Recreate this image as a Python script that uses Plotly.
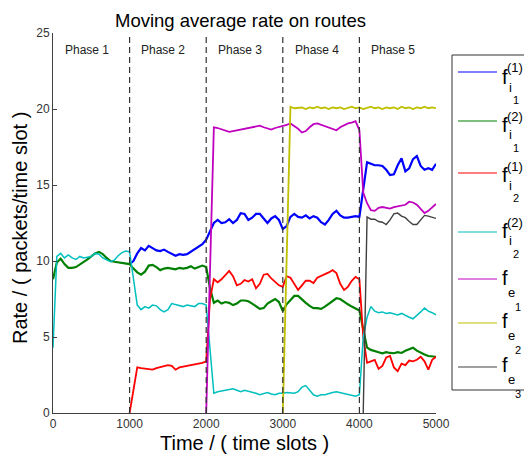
import plotly.graph_objects as go

# ---------------- data ----------------
time_slots = list(range(0, 5001, 50))          # time / (time slots)
phase_starts = [0, 1000, 2000, 3000, 4000]
phase_bounds = [1000, 2000, 3000, 4000]
phase_labels = ["Phase 1", "Phase 2", "Phase 3", "Phase 4", "Phase 5"]
x_ticks = [0, 1000, 2000, 3000, 4000, 5000]
y_ticks = [0, 5, 10, 15, 20, 25]

f_i1_1 = [None] * 20 + [
    9.8, 10.0, 10.5, 10.85, 10.7, 11.0, 10.85, 10.7, 10.65, 10.75,
    10.6, 10.45, 10.35, 10.45, 10.4, 10.45, 10.6, 10.8, 10.95, 11.1,
    11.4, 11.9, 12.5, 12.7, 12.5, 12.55, 12.75, 12.5, 12.7, 13.15,
    13.1, 12.7, 12.85, 13.1, 13.1, 12.8, 12.5, 12.8, 12.95, 12.7,
    12.1, 12.3, 12.9, 13.1, 12.9, 12.85, 13.0, 12.8, 12.95, 12.85,
    12.55, 12.4, 12.7, 13.1, 13.3, 13.0, 12.85, 12.85, 12.9, 12.95,
    12.9, 14.8, 16.5, 16.4, 16.3, 16.3, 16.25, 16.0, 15.65, 15.7,
    16.3, 16.75, 15.9, 16.1, 16.7, 16.9, 16.25, 16.0, 16.1, 16.0, 16.4]

f_i1_2 = [
    8.8, 9.9, 10.15, 9.8, 9.55, 9.55, 9.6, 9.75, 9.95, 10.1,
    10.3, 10.5, 10.6, 10.45, 10.2, 10.0, 9.95, 9.9, 9.9, 9.85,
    9.8, 9.5, 9.25, 9.1, 9.3, 9.7, 9.75, 9.6, 9.4, 9.5,
    9.55, 9.5, 9.45, 9.55, 9.5, 9.55, 9.65, 9.5, 9.6, 9.7,
    9.6, 8.2, 7.25, 7.4, 7.2, 7.3, 7.25, 7.1, 7.2, 7.4,
    7.4, 7.35, 7.2, 7.0, 6.85, 6.9, 7.2, 7.35, 7.5, 7.3,
    6.7, 7.15, 7.45, 7.7, 7.7, 7.45, 7.25, 7.05, 6.9, 6.9,
    6.85, 7.0, 7.2, 7.4, 7.55, 7.5, 7.3, 7.15, 7.0, 6.85,
    6.75, 5.5, 4.3, 4.15, 4.05, 4.0, 3.93, 4.0, 3.95, 3.93,
    4.0, 3.95, 4.1, 4.2, 4.3, 4.1, 3.95, 3.85, 3.75, 3.7, 3.7]

f_i2_1 = [None] * 20 + [
    0.0, 1.5, 3.0, 2.95, 2.9, 2.9, 2.85, 2.95, 3.0, 3.05,
    3.15, 3.1, 2.85, 3.0, 3.05, 3.1, 3.1, 3.15, 3.2, 3.3,
    3.4, 7.5, 8.8, 8.6, 8.8, 9.1, 9.35, 9.0, 8.4, 8.5,
    8.75, 8.65, 8.8, 8.2, 8.5, 9.1, 9.15, 8.85, 8.6, 8.4,
    8.3, 9.0, 8.9, 8.45, 8.1, 8.4, 8.7, 8.7, 8.55, 8.9,
    9.0, 9.1, 9.25, 9.4, 9.2, 8.5, 8.1, 8.3, 8.7, 8.95,
    8.8, 5.0, 3.3, 3.4, 3.5, 2.9, 3.1, 3.65, 3.75, 3.0,
    2.75, 3.25, 3.15, 3.45, 3.4, 3.5, 3.7, 3.4, 2.85, 3.5, 3.7]

f_i2_2 = [
    4.3, 10.3, 10.5, 10.2, 10.4, 10.2, 10.1, 10.3, 10.2, 10.25,
    10.3, 10.5, 10.45, 10.2, 10.05, 9.95, 10.05, 10.35, 10.55, 10.65,
    10.6, 9.0, 7.1, 6.8, 7.0, 6.9, 7.1, 7.05, 6.8, 6.65,
    6.8, 7.2, 7.15, 7.1, 7.0, 7.1, 7.05, 7.0, 7.2, 7.2,
    7.1, 4.0, 1.3, 1.4, 1.45, 1.5, 1.55, 1.6, 1.5, 1.4,
    1.5, 1.45, 1.35, 1.3, 1.2, 1.3, 1.35, 1.25, 1.2, 1.3,
    1.3, 1.35, 1.3, 1.3, 1.4, 1.7, 1.8, 1.5, 1.2, 1.1,
    1.2, 1.2, 1.3, 1.35, 1.4, 1.35, 1.3, 1.2, 1.15, 1.1,
    1.2, 5.0, 6.3, 7.0, 6.7, 6.6, 6.65, 6.55, 6.6, 6.5,
    6.45, 6.55, 6.4, 6.3, 6.2, 6.4, 6.65, 6.9, 6.7, 6.6, 6.45]

f_e1 = [None] * 40 + [
    0.0, 10.0, 18.8, 18.75, 18.65, 18.6, 18.5, 18.55, 18.6, 18.7,
    18.75, 18.8, 18.85, 18.85, 18.9, 18.8, 18.75, 18.65, 18.75, 18.8,
    18.85, 18.95, 19.05, 18.9, 18.7, 18.45, 18.55, 18.8, 19.0, 19.05,
    18.95, 18.85, 18.75, 18.7, 18.6, 18.8, 18.95, 19.05, 19.1, 19.2,
    18.6, 14.5, 13.8, 13.35, 13.3, 13.5, 13.55, 13.5, 13.45, 13.55,
    13.6, 13.6, 13.7, 13.9, 13.85, 13.7, 13.4, 13.15, 13.3, 13.55, 13.75]

f_e2 = [None] * 60 + [
    0.0, 10.0, 20.15, 20.05, 20.1, 20.1, 20.0, 20.1, 20.05, 20.15,
    20.05, 20.1, 20.0, 20.1, 20.05, 20.1, 20.0, 20.1, 20.15, 20.05,
    20.1, 20.0, 20.1, 20.15, 20.05, 20.1, 20.0, 20.1, 20.05, 20.1,
    20.0, 20.15, 20.05, 20.1, 20.0, 20.1, 20.05, 20.15, 20.05, 20.1, 20.05]

f_e3 = [None] * 81 + [
    0.0, 12.9, 12.75, 12.75, 12.6, 12.55, 12.4, 12.7, 13.1, 13.15,
    12.95, 12.85, 12.6, 12.4, 12.4, 12.7, 13.0, 12.95, 12.85, 12.8]

series = [f_i1_1, f_i1_2, f_i2_1, f_i2_2, f_e1, f_e2, f_e3]
series_names = ["f_i1^(1)", "f_i1^(2)", "f_i2^(1)", "f_i2^(2)", "f_e1", "f_e2", "f_e3"]
# legend label parts: (subscript letter, sub-subscript, superscript)
legend_parts = [("i", "1", "(1)"), ("i", "1", "(2)"), ("i", "2", "(1)"), ("i", "2", "(2)"),
                ("e", "1", None), ("e", "2", None), ("e", "3", None)]
colors = ["#0000FF", "#008000", "#FF0000", "#00BFBF", "#BF00BF", "#BFBF00", "#404040"]
widths = [2.2, 2.2, 1.8, 1.5, 1.8, 1.8, 1.4]

for s in series:
    assert len(s) == len(time_slots)

# ---------------- figure ----------------
# the page body has an 8px margin, so the figure is drawn 8px in from the top-left
OFF = 8
VIEW_W, VIEW_H = 532, 457
PL, PR, PT, PB = 53, 436, 33, 413      # plot-area edges in page pixels
W, H = VIEW_W - OFF, VIEW_H - OFF
L, T = PL - OFF, PT - OFF
R, B = VIEW_W - PR, VIEW_H - PB
PW, PH = PR - PL, PB - PT


def pxx(x):
    return (x - PL) / PW


def pxy(y):
    return (PB - y) / PH


FONT = "Liberation Sans, Arial, Helvetica, sans-serif"
fig = go.Figure()
for s, n, c, w in zip(series, series_names, colors, widths):
    fig.add_trace(go.Scatter(x=time_slots, y=s, mode="lines", name=n,
                             line=dict(color=c, width=w), showlegend=False,
                             connectgaps=False))

shapes = []
for xb in phase_bounds:
    shapes.append(dict(type="line", xref="x", yref="y", x0=xb, x1=xb, y0=0, y1=25,
                       line=dict(color="#333333", width=1.2, dash="6px,4px")))

# legend box
shapes.append(dict(type="rect", xref="paper", yref="paper",
                   x0=pxx(452), x1=pxx(560), y0=pxy(390), y1=pxy(55),
                   line=dict(color="#333333", width=1), fillcolor="white"))

annotations = []
line_ys = [72, 121, 173, 232, 279, 323, 367]
f_ys = [77, 125, 175, 231, 278, 321, 365]
for (sub, subsub, sup), c, ly, fy in zip(legend_parts, colors, line_ys, f_ys):
    shapes.append(dict(type="line", xref="paper", yref="paper",
                       x0=pxx(458), x1=pxx(497), y0=pxy(ly), y1=pxy(ly),
                       line=dict(color=c, width=1.2)))
    annotations.append(dict(text="f", xref="paper", yref="paper", x=pxx(504.5), y=pxy(fy),
                            showarrow=False, font=dict(size=20, color="black", family=FONT),
                            xanchor="center", yanchor="middle"))
    if sup is not None:
        annotations.append(dict(text=sup, xref="paper", yref="paper", x=pxx(515), y=pxy(fy - 9),
                                showarrow=False, font=dict(size=13, color="black", family=FONT),
                                xanchor="center", yanchor="middle"))
        annotations.append(dict(text=sub, xref="paper", yref="paper", x=pxx(510), y=pxy(fy + 10),
                                showarrow=False, font=dict(size=13, color="black", family=FONT),
                                xanchor="center", yanchor="middle"))
        annotations.append(dict(text=subsub, xref="paper", yref="paper", x=pxx(515.5), y=pxy(fy + 23),
                                showarrow=False, font=dict(size=11, color="black", family=FONT),
                                xanchor="center", yanchor="middle"))
    else:
        annotations.append(dict(text=sub, xref="paper", yref="paper", x=pxx(511), y=pxy(fy + 14),
                                showarrow=False, font=dict(size=13, color="black", family=FONT),
                                xanchor="center", yanchor="middle"))
        annotations.append(dict(text=subsub, xref="paper", yref="paper", x=pxx(518), y=pxy(fy + 29),
                                showarrow=False, font=dict(size=11, color="black", family=FONT),
                                xanchor="center", yanchor="middle"))

for ps, lab in zip(phase_starts, phase_labels):
    annotations.append(dict(text=lab, xref="x", yref="y", x=ps + 440, y=23.9,
                            showarrow=False, font=dict(size=12, color="#222222", family=FONT),
                            xanchor="center", yanchor="middle"))

annotations.append(dict(text="Moving average rate on routes", xref="paper", yref="paper",
                        x=pxx(240), y=pxy(8), showarrow=False,
                        font=dict(size=18.5, color="black", family=FONT),
                        xanchor="center", yanchor="top"))
annotations.append(dict(text="Time / ( time slots )", xref="paper", yref="paper",
                        x=pxx(244), y=pxy(443), showarrow=False,
                        font=dict(size=20, color="black", family=FONT),
                        xanchor="center", yanchor="middle"))
annotations.append(dict(text="Rate / ( packets/time slot )", xref="paper", yref="paper",
                        x=pxx(20), y=pxy(228), showarrow=False, textangle=-90,
                        font=dict(size=20, color="black", family=FONT),
                        xanchor="center", yanchor="middle"))

axis_common = dict(showgrid=False, zeroline=False, showline=True, linecolor="#404040",
                   linewidth=1, ticks="inside", ticklen=4, tickcolor="#404040",
                   tickfont=dict(size=12, color="#333333", family=FONT), mirror=False)

fig.update_layout(
    width=W, height=H,
    margin=dict(l=L, r=R, t=T, b=B, pad=0),
    paper_bgcolor="white", plot_bgcolor="white",
    xaxis=dict(range=[0, 5000], tickvals=x_ticks, ticktext=[str(v) for v in x_ticks], **axis_common),
    yaxis=dict(range=[0, 25], tickvals=y_ticks, ticktext=[str(v) for v in y_ticks], **axis_common),
    shapes=shapes, annotations=annotations, showlegend=False,
)

fig.write_html("out.html")
